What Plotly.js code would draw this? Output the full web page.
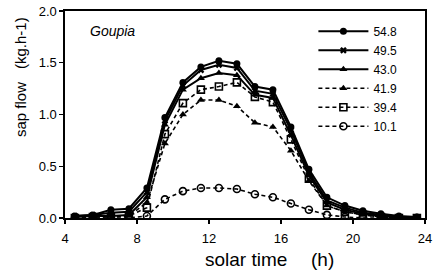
<!DOCTYPE html>
<html>
<head>
<meta charset="utf-8">
<script src="https://cdn.plot.ly/plotly-3.0.1.min.js"></script>
<style>html,body{margin:0;padding:0;background:#fff;}#chart{width:441px;height:275px;}</style>
</head>
<body>
<div id="chart"></div>
<script>
// solar time (h)
var hours = [4.55,5.55,6.55,7.55,8.55,9.55,10.55,11.55,12.55,13.55,14.55,15.55,16.55,17.55,18.55,19.55,20.55,21.55,22.55,23.55];
// sap flow (kg.h-1) per tree (legend label = tree size)
var s548 = [0.02,0.03,0.08,0.09,0.29,0.97,1.31,1.46,1.52,1.49,1.27,1.24,0.88,0.47,0.20,0.12,0.07,0.04,0.02,0.01];
var s495 = [0.02,0.03,0.05,0.06,0.25,0.94,1.28,1.43,1.48,1.45,1.23,1.20,0.85,0.44,0.17,0.10,0.05,0.03,0.01,0.00];
var s430 = [0.01,0.02,0.02,0.03,0.20,0.90,1.24,1.35,1.40,1.38,1.19,1.16,0.80,0.41,0.15,0.08,0.04,0.02,0.01,0.00];
var s419 = [0.00,0.01,0.02,0.02,0.15,0.72,1.00,1.14,1.14,1.08,0.92,0.88,0.65,0.36,0.12,0.06,0.03,0.01,0.00,0.00];
var s394 = [0.00,0.01,0.01,0.02,0.10,0.81,1.11,1.24,1.27,1.31,1.17,1.12,0.76,0.38,0.12,0.06,0.03,0.01,0.00,0.00];
var s101 = [0.00,0.00,0.00,0.00,0.02,0.18,0.26,0.29,0.29,0.28,0.23,0.20,0.14,0.08,0.03,0.01,0.00,0.00,0.00,0.00];
var names = ["54.8","49.5","43.0","41.9","39.4","10.1"];
var xTicks = [4,8,12,16,20,24];
var yTicks = [0,0.5,1.0,1.5,2.0];

var FONT = "Arial, 'Liberation Sans', Helvetica, sans-serif";
var series = [s548,s495,s430,s419,s394,s101];
var symbols = ["circle","x","triangle-up","triangle-up","square-open","circle-open"];
var dashes = ["solid","solid","solid","4px,3px","4px,3px","4px,3px"];
var sizes = [7,6,7,7,7,7];

var traces = series.map(function(ys,i){
  return {
    x: hours, y: ys, name: names[i], type: "scatter", mode: "lines+markers",
    line: {color: "#000", width: i<3 ? 2 : 1.6, dash: dashes[i]},
    marker: {symbol: symbols[i], size: sizes[i], color: "#000",
             line: {color: "#000", width: symbols[i].indexOf("open")>=0 ? 1.6 : 0}}
  };
});

var layout = {
  width: 441, height: 275,
  margin: {l: 65, r: 16, t: 11, b: 57, pad: 0},
  paper_bgcolor: "#fff", plot_bgcolor: "#fff",
  font: {family: FONT, color: "#000", size: 13},
  showlegend: true,
  legend: {x: 0.69, y: 0.972, xanchor: "left", yanchor: "top", bgcolor: "rgba(0,0,0,0)",
           borderwidth: 0, itemwidth: 50, font: {family: FONT, size: 12, color: "#000"},
           traceorder: "normal"},
  xaxis: {range: [4,24], tickvals: xTicks, ticktext: xTicks.map(String),
          showline: true, mirror: true, linecolor: "#000", linewidth: 1.6,
          ticks: "outside", ticklen: 4, tickwidth: 1.2, tickcolor: "#000",
          showgrid: false, zeroline: false, ticklabelstandoff: 4,
          tickfont: {family: FONT, size: 13, color: "#000"}},
  yaxis: {range: [0,2], tickvals: yTicks, ticktext: yTicks.map(function(v){return v.toFixed(1);}),
          showline: true, mirror: true, linecolor: "#000", linewidth: 1.6,
          ticks: "outside", ticklen: 4, tickwidth: 1.2, tickcolor: "#000",
          showgrid: false, zeroline: false,
          tickfont: {family: FONT, size: 13, color: "#000"}},
  annotations: [
    {text: "<i>Goupia</i>", xref: "paper", yref: "paper", x: (88-65)/360, y: (218-31)/207,
     xanchor: "left", yanchor: "middle", showarrow: false, font: {family: FONT, size: 14, color: "#000"}},
    {text: "sap flow", xref: "paper", yref: "paper", x: (20-65)/360, y: (218-110)/207, textangle: -90,
     xanchor: "center", yanchor: "middle", showarrow: false, font: {family: FONT, size: 15, color: "#000"}},
    {text: "(kg.h-1)", xref: "paper", yref: "paper", x: (20-65)/360, y: (218-43)/207, textangle: -90,
     xanchor: "center", yanchor: "middle", showarrow: false, font: {family: FONT, size: 15, color: "#000"}},
    {text: "solar time", xref: "paper", yref: "paper", x: (246-65)/360, y: (218-259)/207,
     xanchor: "center", yanchor: "middle", showarrow: false, font: {family: FONT, size: 19, color: "#000"}},
    {text: "(h)", xref: "paper", yref: "paper", x: (322-65)/360, y: (218-259)/207,
     xanchor: "center", yanchor: "middle", showarrow: false, font: {family: FONT, size: 19, color: "#000"}}
  ]
};

Plotly.newPlot("chart", traces, layout, {staticPlot: true, displayModeBar: false});
</script>
</body>
</html>
